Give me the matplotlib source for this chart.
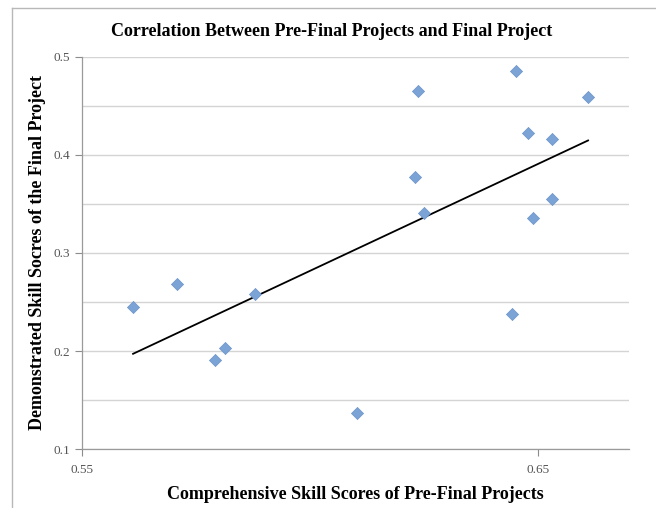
import numpy as np
import matplotlib.pyplot as plt
from matplotlib.lines import Line2D

# comprehensive skill scores (pre-final) vs demonstrated skill scores (final)
pre_final = [0.5612, 0.5708, 0.5792, 0.5814, 0.5879, 0.6103, 0.6237, 0.6230,
             0.6250, 0.6452, 0.6443, 0.6478, 0.6489, 0.6531, 0.6531, 0.6610]
final = [0.245, 0.268, 0.191, 0.203, 0.258, 0.137, 0.465, 0.377,
         0.341, 0.486, 0.238, 0.422, 0.336, 0.416, 0.355, 0.459]
x_ticks = [0.55, 0.65]
y_ticks = [0.1, 0.2, 0.3, 0.4, 0.5]

plt.rcParams["font.family"] = ["Liberation Serif", "DejaVu Serif"]

fig = plt.figure(figsize=(6.56, 5.08), dpi=100)
ax = fig.add_axes([0.125, 0.116, 0.834, 0.772])

xs = np.array(pre_final)
ys = np.array(final)

# linear trendline
slope, icpt = np.polyfit(xs, ys, 1)
fit_x = np.array([xs.min(), xs.max()])
ax.plot(fit_x, slope * fit_x + icpt, color="black", lw=1.3, zorder=2)

ax.scatter(xs, ys, marker="D", s=38, color="#7ba3d6",
           edgecolors="#6a93c8", linewidths=0.5, zorder=3)

ax.set_xlim(0.55, 0.67)
ax.set_ylim(0.1, 0.5)
ax.set_xticks(x_ticks)
ax.set_xticklabels(["0.55", "0.65"])
ax.set_yticks(y_ticks)
ax.set_yticklabels([str(v) for v in y_ticks])
ax.set_yticks(np.arange(0.15, 0.5, 0.1), minor=True)
ax.grid(True, which="both", axis="y", color="#d4d4d4", lw=1)
ax.tick_params(which="minor", length=0)
ax.tick_params(which="major", colors="#8c8c8c", labelcolor="#555555",
               labelsize=9.5, length=5, width=0.8)
ax.tick_params(axis="x", pad=6)

for side in ["top", "right"]:
    ax.spines[side].set_visible(False)
for side in ["left", "bottom"]:
    ax.spines[side].set_color("#9a9a9a")
    ax.spines[side].set_linewidth(0.9)

fig.text(0.505, 1 - 31 / 508,
         "Correlation Between Pre-Final Projects and Final Project",
         fontsize=13, fontweight="bold", ha="center", va="center")
ax.set_xlabel("Comprehensive Skill Scores of Pre-Final Projects",
              fontsize=13, fontweight="bold", labelpad=7)
ax.set_ylabel("Demonstrated Skill Socres of the Final Project",
              fontsize=13, fontweight="bold", labelpad=5)

# outer frame lines (top and left)
fig.add_artist(Line2D([12 / 656, 1], [1 - 8 / 508, 1 - 8 / 508],
                      transform=fig.transFigure, color="#b8b8b8", lw=1))
fig.add_artist(Line2D([12 / 656, 12 / 656], [0, 1 - 8 / 508],
                      transform=fig.transFigure, color="#b8b8b8", lw=1))

fig.savefig("out.png", dpi=100)
